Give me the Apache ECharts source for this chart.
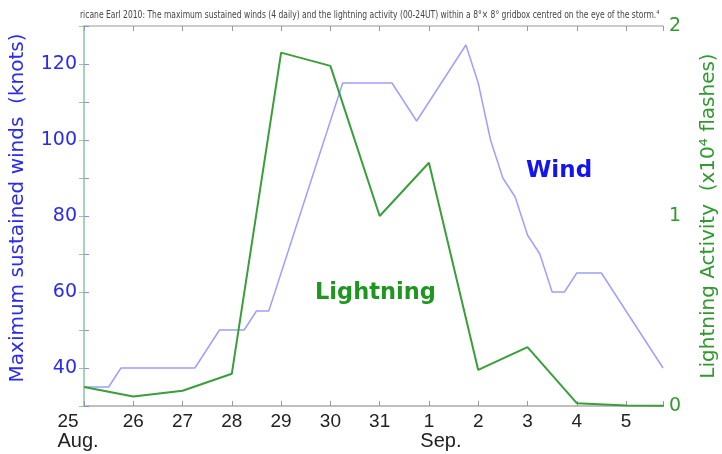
<!DOCTYPE html>
<html>
<head>
<meta charset="utf-8">
<script src="https://cdn.jsdelivr.net/npm/echarts@6/dist/echarts.min.js"></script>
<style>
  html, body { margin: 0; padding: 0; background: #fff; }
  #chart { width: 722px; height: 454px; }
</style>
</head>
<body>
<div id="chart"></div>
<script>
// Hurricane Earl 2010, 25 Aug - 5 Sep
const dayLabels = ['25', '26', '27', '28', '29', '30', '31', '1', '2', '3', '4', '5'];
const monthLabels = { 0: 'Aug.', 7: 'Sep.' };

// max sustained winds (knots), 4 daily from 25 Aug 00UT
const windKnots = [
    35, 35, 35, 40,  40, 40, 40, 40,  40, 40, 45, 50,  50, 50, 55, 55,
    65, 75, 85, 95,  105, 115, 115, 115,  115, 115, 110, 105,  110, 115, 120, 125,
    115, 100, 90, 85,  75, 70, 60, 60,  65, 65, 65, 60,  55, 50, 45, 40
];

// daily lightning activity (x10^4 flashes), 25 Aug .. 6 Sep
const lightningFlashes = [0.10, 0.05, 0.08, 0.17, 1.86, 1.79, 1.00, 1.28, 0.19, 0.31, 0.015, 0.003, 0];

const windTickLabels = [40, 60, 80, 100, 120];
const flashTickLabels = [0, 1, 2];

const titleText = 'ricane Earl 2010: The maximum sustained winds (4 daily) and the lightning activity (00-24UT) within a 8°× 8° gridbox centred on the eye of the storm.⁴';

const BLUE = '#2a2af0';
const GREEN = '#2f9a2f';

const chart = echarts.init(document.getElementById('chart'));

function dayFormatter(v) {
    if (Math.abs(v - Math.round(v)) > 1e-6) return '';
    const i = Math.round(v);
    if (i >= dayLabels.length) return '';
    if (i === 0) return '{d0|' + dayLabels[i] + '}\n{aug|' + monthLabels[i] + '}';
    if (monthLabels[i]) return '{d|' + dayLabels[i] + '}\n{sep|' + monthLabels[i] + '}';
    return '{d|' + dayLabels[i] + '}';
}

const option = {
    animation: false,
    grid: { left: 84, right: 59, top: 26, bottom: 48, outerBoundsMode: 'none' },
    graphic: [
        {
            type: 'text', left: 80, top: 10, scaleX: 0.845,
            style: { text: titleText, fill: '#444', font: '10px "Liberation Sans Narrow", "DejaVu Sans Condensed", sans-serif' }
        },
        {
            type: 'text', left: 526, top: 160,
            style: { text: 'Wind', fill: '#1414f0', font: 'bold 23px "DejaVu Sans", sans-serif' }
        },
        {
            type: 'text', left: 315, top: 282,
            style: { text: 'Lightning', fill: '#1f961f', font: 'bold 22.5px "DejaVu Sans", sans-serif' }
        }
    ],
    xAxis: [
        {
            type: 'value', min: 0, max: 11.75, interval: 1, position: 'bottom',
            axisLine: { lineStyle: { color: '#aaa', width: 1.5 } },
            axisTick: { inside: true, length: 5, lineStyle: { color: '#999' } },
            splitLine: { show: false },
            axisLabel: {
                formatter: dayFormatter,
                color: '#222', fontSize: 19, fontFamily: 'Liberation Sans', margin: 6,
                lineHeight: 18,
                rich: {
                    d: { fontSize: 19, fontFamily: 'Liberation Sans', color: '#222', align: 'center', lineHeight: 20 },
                    d0: { fontSize: 19, fontFamily: 'Liberation Sans', color: '#222', align: 'left', lineHeight: 20 },
                    aug: { fontSize: 20, fontFamily: 'Liberation Sans', color: '#222', align: 'left', padding: [0, 12, 0, 0], lineHeight: 18 },
                    sep: { fontSize: 20, fontFamily: 'Liberation Sans', color: '#222', align: 'left', padding: [0, 0, 0, 24], lineHeight: 18 }
                }
            }
        },
        {
            type: 'value', min: 0, max: 11.75, interval: 1, position: 'top',
            axisLine: { lineStyle: { color: '#bbb', width: 1.5 } },
            axisTick: { inside: true, length: 5, lineStyle: { color: '#999' } },
            axisLabel: { show: false },
            splitLine: { show: false }
        }
    ],
    yAxis: [
        {
            type: 'value', min: 30, max: 130, interval: 10, position: 'left',
            name: 'Maximum sustained winds  (knots)',
            nameLocation: 'middle', nameGap: 56,
            nameTextStyle: { color: BLUE, fontSize: 20, fontFamily: 'DejaVu Sans', padding: [0, 0, 0, 16] },
            axisLine: { show: true, lineStyle: { color: '#9c9cff', width: 1.5 } },
            axisTick: { show: true, inside: true, length: 5, lineStyle: { color: '#8c8cff' } },
            splitLine: { show: false },
            axisLabel: {
                color: BLUE, fontSize: 19, fontFamily: 'DejaVu Sans', margin: 7,
                formatter: v => (windTickLabels.includes(v) ? String(v) : '')
            }
        },
        {
            type: 'value', min: 0, max: 2, interval: 0.2, position: 'right',
            name: 'Lightning Activity  (x10⁴ flashes)',
            nameLocation: 'middle', nameGap: 36,
            nameTextStyle: { color: GREEN, fontSize: 20, fontFamily: 'DejaVu Sans' },
            axisLine: { show: true, lineStyle: { color: '#a6dca6', width: 1.5 } },
            axisTick: { show: true, inside: true, length: 5, lineStyle: { color: '#8fcf8f' } },
            splitLine: { show: false },
            axisLabel: {
                color: GREEN, fontSize: 19, fontFamily: 'DejaVu Sans', margin: 6,
                formatter: v => (flashTickLabels.some(t => Math.abs(t - v) < 1e-6) ? String(Math.round(v)) : '')
            }
        }
    ],
    series: [
        {
            name: 'Wind', type: 'line', xAxisIndex: 0, yAxisIndex: 0,
            data: windKnots.map((v, i) => [i / 4, v]),
            showSymbol: false, symbol: 'none',
            lineStyle: { color: '#9f9fff', width: 1.5 },
            z: 2
        },
        {
            name: 'Lightning', type: 'line', xAxisIndex: 0, yAxisIndex: 1,
            data: lightningFlashes.map((v, i) => [i, v]),
            showSymbol: false, symbol: 'none',
            lineStyle: { color: '#3a9e3a', width: 2 },
            z: 3
        }
    ]
};

chart.setOption(option);
</script>
</body>
</html>
